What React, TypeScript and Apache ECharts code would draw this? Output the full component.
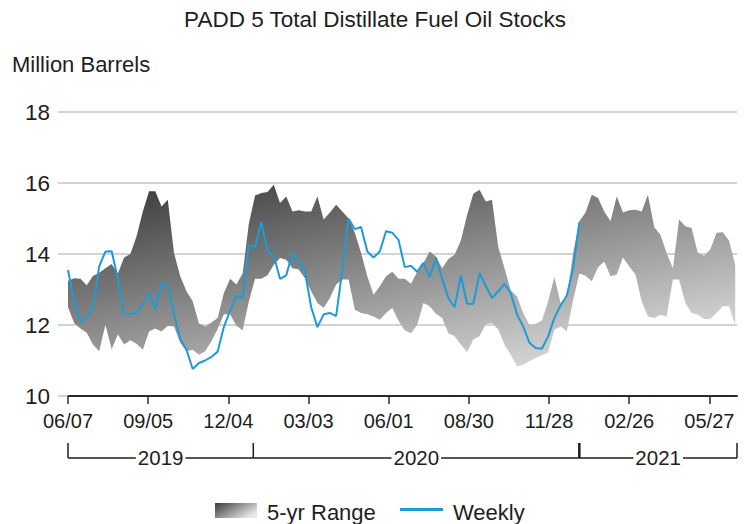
import React, { useEffect, useRef } from "react";
import * as echarts from "echarts";

// ---------- data ----------
const START_UTC = Date.UTC(2019, 5, 7); // first weekly observation, 06/07/2019
const WEEK_DAYS = 7;
const X_MAX_DAYS = 751;
const TICK_DAYS = [0, 90, 180, 270, 360, 450, 540, 630, 720];
const YEAR_LABELS = ["2019", "2020", "2021"];

// Weekly PADD 5 distillate stocks (million barrels), from 06/07/2019
const weekly = [
  13.55, 12.65, 12.1, 12.2, 12.5, 13.65, 14.07, 14.08, 13.3, 12.3,
  12.3, 12.35, 12.6, 12.9, 12.45, 13.2, 13.1, 12.3, 11.6, 11.3,
  10.76, 10.93, 11.0, 11.1, 11.25, 11.95, 12.4, 12.83, 12.76, 14.26,
  14.2, 14.9, 14.07, 13.95, 13.3, 13.4, 14.03, 13.8, 13.5, 12.5,
  11.94, 12.3, 12.34, 12.25, 13.56, 14.99, 14.7, 14.76, 14.07, 13.9,
  14.07, 14.64, 14.6, 14.4, 13.63, 13.67, 13.5, 13.75, 13.35, 13.9,
  13.3, 12.76, 12.5, 13.4, 12.6, 12.6, 13.46, 13.1, 12.76, 12.95,
  13.16, 12.9, 12.3, 11.96, 11.5, 11.35, 11.33, 11.68, 12.2, 12.55,
  12.83, 13.6, 14.9,
];

// 5-year range, upper bound
const rangeUpper = [
  13.25, 13.32, 13.3, 13.12, 13.38, 13.47, 13.6, 13.72, 13.45, 13.9,
  14.0, 14.5, 15.2, 15.77, 15.77, 15.34, 15.53, 14.03, 13.37, 12.95,
  12.67, 12.04, 11.96, 12.07, 12.2, 12.9, 13.3, 13.14, 13.45, 14.85,
  15.65, 15.72, 15.75, 15.95, 15.44, 15.62, 15.2, 15.23, 15.2, 15.2,
  15.62, 14.97, 15.17, 15.39, 15.2, 15.0, 14.6, 14.03, 13.37, 12.85,
  13.09, 13.37, 13.5, 13.3, 13.3, 13.16, 13.5, 13.75, 14.07, 13.93,
  13.6, 13.86, 13.98, 14.38, 15.1, 15.7, 15.81, 15.48, 15.53, 14.2,
  13.6, 12.98, 12.8, 12.34, 12.0, 12.03, 12.13, 12.67, 13.35, 12.62,
  12.76, 14.03, 14.92, 15.17, 15.67, 15.58, 15.2, 14.92, 15.62, 15.17,
  15.23, 15.25, 15.2, 15.67, 14.76, 14.54, 14.03, 13.6, 14.97, 14.78,
  14.73, 14.03, 13.95, 14.13, 14.6, 14.61, 14.38, 13.7,
];

// 5-year range, lower bound
const rangeLower = [
  12.5, 12.05, 11.9, 11.78, 11.45, 11.26, 12.0, 11.32, 11.73, 11.45,
  11.57, 11.47, 11.3, 11.82, 11.9, 11.82, 11.98, 11.96, 11.5, 11.26,
  11.3, 11.16, 11.26, 11.54, 11.89, 12.3, 12.3, 11.98, 11.85, 12.66,
  13.3, 13.3, 13.4, 13.7, 13.89, 13.84, 13.6, 13.56, 13.32, 12.95,
  12.62, 12.48, 12.76, 13.14, 13.28, 13.28, 12.43, 12.34, 12.3, 12.24,
  12.15, 12.34, 12.48, 12.12, 11.85, 11.77, 12.0, 12.62, 12.53, 12.32,
  12.2, 11.77, 11.68, 11.45, 11.23, 11.59, 11.68, 12.03, 12.05, 11.87,
  11.45, 11.16, 10.83, 10.88, 10.98, 11.07, 11.14, 11.23, 11.87, 11.96,
  11.82, 12.7, 13.45, 13.39, 13.23, 13.63, 13.79, 13.37, 13.42, 13.9,
  13.65, 13.42, 12.67, 12.24, 12.2, 12.29, 12.24, 13.28, 13.28, 12.62,
  12.34, 12.29, 12.17, 12.17, 12.34, 12.53, 12.53, 12.0,
];

// ---------- styling ----------
const FONT = "'Liberation Sans', Arial, sans-serif";
const TEXT = "#1e1e1e";
const BLUE = "#1e9bd7";
const GRID = { left: 68, right: 13, top: 112, bottom: 128 };

const dayOf = (y: number, m: number, d: number) =>
  Math.round((Date.UTC(y, m, d) - START_UTC) / 86400000);

const fmtDay = (v: number) => {
  const dt = new Date(START_UTC + v * 86400000);
  const mm = String(dt.getUTCMonth() + 1).padStart(2, "0");
  const dd = String(dt.getUTCDate()).padStart(2, "0");
  return `${mm}/${dd}`;
};

export default function App() {
  const ref = useRef<HTMLDivElement>(null);

  useEffect(() => {
    if (!ref.current) return;
    const chart = echarts.init(ref.current, null, { renderer: "svg" });

    const bandData = rangeUpper.map((u, i) => [i * WEEK_DAYS, rangeLower[i], u]);
    const weeklyData = weekly.map((v, i) => [i * WEEK_DAYS, v]);

    const bandGradient = new echarts.graphic.LinearGradient(
      GRID.left,
      GRID.top + 71,
      GRID.left + 55,
      GRID.top + 71 + 263,
      [
        { offset: 0, color: "#333333" },
        { offset: 1, color: "#d2d2d2" },
      ],
      true
    );

    chart.setOption({
      animation: false,
      textStyle: { fontFamily: FONT },
      grid: { ...GRID, containLabel: false },
      xAxis: {
        type: "value",
        min: 0,
        max: X_MAX_DAYS,
        interval: 90,
        splitLine: { show: false },
        axisLine: { lineStyle: { color: "#2a2a2a", width: 2 } },
        axisTick: {
          customValues: TICK_DAYS,
          length: 8,
          lineStyle: { color: "#2a2a2a", width: 1.5 },
        },
        axisLabel: {
          customValues: TICK_DAYS,
          formatter: (v: number) => fmtDay(v),
          fontSize: 20,
          color: TEXT,
          margin: 15,
          fontFamily: FONT,
        },
      },
      yAxis: {
        type: "value",
        min: 10,
        max: 18,
        interval: 2,
        axisLine: { show: false },
        axisTick: {
          show: true,
          length: 10,
          lineStyle: { color: "#c4c4c4", width: 1.5 },
        },
        splitLine: { lineStyle: { color: "#c4c4c4", width: 1.5 } },
        axisLabel: {
          fontSize: 22.5,
          color: TEXT,
          margin: 18,
          fontFamily: FONT,
        },
      },
      series: [
        {
          type: "custom",
          name: "5-yr Range",
          data: bandData,
          encode: { x: 0, y: [1, 2] },
          silent: true,
          z: 1,
          renderItem: (params: any, api: any) => {
            if (params.dataIndex !== 0) return null;
            const top = bandData.map((d) => api.coord([d[0], d[2]]));
            const bottom = bandData
              .map((d) => api.coord([d[0], d[1]]))
              .reverse();
            return {
              type: "polygon",
              shape: { points: top.concat(bottom) },
              style: { fill: bandGradient, stroke: null },
            };
          },
        },
        {
          type: "line",
          name: "Weekly",
          data: weeklyData,
          symbol: "none",
          lineStyle: { color: BLUE, width: 2 },
          z: 3,
        },
      ],
    });

    // Year brackets below the axis, positioned through the x scale
    const bounds = [0, dayOf(2020, 0, 1), dayOf(2021, 0, 1), X_MAX_DAYS];
    const px = bounds.map(
      (d) => chart.convertToPixel({ xAxisIndex: 0 }, d) as number
    );
    const bracketTop = 443;
    const bracketY = 458;
    const brackets: any[] = [
      {
        type: "line",
        shape: { x1: px[0], y1: bracketY, x2: px[3], y2: bracketY },
        style: { stroke: "#1e1e1e", lineWidth: 1.5 },
        z: 10,
      },
    ];
    px.forEach((x, k) => {
      brackets.push({
        type: "line",
        shape: { x1: x, y1: bracketTop, x2: x, y2: bracketY },
        style: { stroke: "#1e1e1e", lineWidth: k === 2 ? 2.5 : 1.5 },
        z: 10,
      });
    });
    YEAR_LABELS.forEach((label, k) => {
      brackets.push({
        type: "text",
        x: (px[k] + px[k + 1]) / 2,
        y: bracketY - 1,
        style: {
          text: label,
          fontSize: 20.5,
          fontFamily: FONT,
          fill: TEXT,
          align: "center",
          verticalAlign: "middle",
          backgroundColor: "#ffffff",
          padding: [0, 2],
        },
        z: 11,
      });
    });

    chart.setOption({
      graphic: [
        {
          type: "text",
          x: 375,
          y: 19,
          style: {
            text: "PADD 5 Total Distillate Fuel Oil Stocks",
            fontSize: 22.5,
            fontFamily: FONT,
            fill: TEXT,
            align: "center",
            verticalAlign: "middle",
          },
        },
        {
          type: "text",
          x: 12,
          y: 64,
          style: {
            text: "Million Barrels",
            fontSize: 22,
            fontFamily: FONT,
            fill: TEXT,
            align: "left",
            verticalAlign: "middle",
          },
        },
        ...brackets,
        // legend
        {
          type: "rect",
          shape: { x: 215, y: 503, width: 42, height: 15 },
          style: {
            fill: new echarts.graphic.LinearGradient(0, 0, 1, 0.6, [
              { offset: 0, color: "#3a3a3a" },
              { offset: 1, color: "#e6e6e6" },
            ]),
          },
        },
        {
          type: "text",
          x: 267,
          y: 512,
          style: {
            text: "5-yr Range",
            fontSize: 22,
            fontFamily: FONT,
            fill: TEXT,
            align: "left",
            verticalAlign: "middle",
          },
        },
        {
          type: "line",
          shape: { x1: 400, y1: 509.5, x2: 443, y2: 509.5 },
          style: { stroke: BLUE, lineWidth: 3 },
        },
        {
          type: "text",
          x: 453,
          y: 512,
          style: {
            text: "Weekly",
            fontSize: 22,
            fontFamily: FONT,
            fill: TEXT,
            align: "left",
            verticalAlign: "middle",
          },
        },
      ],
    });

    return () => chart.dispose();
  }, []);

  return (
    <div
      ref={ref}
      style={{ width: 750, height: 524, position: "absolute", left: 0, top: 0 }}
    />
  );
}
